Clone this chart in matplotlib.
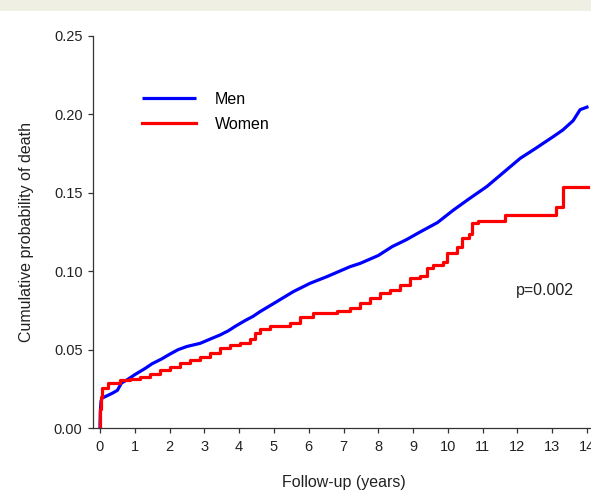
import matplotlib
matplotlib.use("Agg")
import matplotlib.pyplot as plt
from matplotlib.patches import Rectangle

plt.rcParams['font.family'] = ['Liberation Sans', 'DejaVu Sans']

# Men: cumulative probability of death
men_t = [0.0, 0.01, 0.03, 0.06, 0.15, 0.34, 0.5, 0.62, 0.8, 1.0, 1.3, 1.5, 1.77, 2.0, 2.25,
         2.5, 2.88, 3.2, 3.45, 3.69, 3.9, 4.17, 4.4, 4.6, 5.0, 5.56, 6.04, 6.52,
         7.19, 7.48, 8.0, 8.4, 8.8, 9.2, 9.7, 10.16, 10.6, 11.12, 11.6, 12.08,
         12.5, 13.04, 13.3, 13.6, 13.8, 14.04]
men_p = [0.0, 0.010, 0.017, 0.019, 0.020, 0.022, 0.024, 0.0287, 0.031, 0.034, 0.038, 0.041,
         0.044, 0.047, 0.050, 0.052, 0.054, 0.057, 0.0593, 0.062, 0.065, 0.0685,
         0.0712, 0.0742, 0.0795, 0.087, 0.0923, 0.0965, 0.1029, 0.105, 0.110, 0.1157, 0.120,
         0.125, 0.131, 0.139, 0.146, 0.154, 0.163, 0.172, 0.178, 0.186, 0.190, 0.196,
         0.203, 0.205]

# Women: step curve (Kaplan-Meier style)
women_t = [0.0, 0.01, 0.03, 0.06, 0.23, 0.58, 0.85, 1.15, 1.45, 1.73, 2.01, 2.3, 2.59,
           2.88, 3.16, 3.45, 3.74, 4.03, 4.32, 4.46, 4.6, 4.89, 5.47, 5.75, 6.13, 6.81,
           7.19, 7.48, 7.77, 8.06, 8.34, 8.63, 8.92, 9.2, 9.4, 9.58, 9.87, 9.97, 10.26,
           10.4, 10.6, 10.7, 10.88, 11.65, 13.12, 13.31, 14.04]
women_p = [0.0, 0.012, 0.020, 0.0255, 0.029, 0.0306, 0.0315, 0.0323, 0.0345, 0.037,
           0.039, 0.0417, 0.0434, 0.0455, 0.0476, 0.0508, 0.053, 0.0544, 0.0566, 0.0604,
           0.063, 0.065, 0.0668, 0.0706, 0.0735, 0.0746, 0.0763, 0.0795, 0.0827, 0.0863,
           0.088, 0.0912, 0.0955, 0.097, 0.1019, 0.104, 0.106, 0.1114, 0.1157, 0.121,
           0.124, 0.1307, 0.132, 0.1358, 0.1407, 0.1535, 0.1535]

x_ticks = list(range(0, 15))
y_ticks = [0.00, 0.05, 0.10, 0.15, 0.20, 0.25]

W, H = 591, 494
fig = plt.figure(figsize=(W / 100, H / 100), dpi=100)
fig.patches.append(Rectangle((0, 1 - 11 / H), 1, 11 / H, transform=fig.transFigure,
                             facecolor='#f0efe4', edgecolor='none', zorder=0))

ax = fig.add_axes([93 / W, 66 / H, 501 / W, 392 / H])

ax.plot(men_t, men_p, color='#0000ff', lw=2.3, label='Men', solid_capstyle='butt')
ax.plot(women_t, women_p, color='#ff0000', lw=2.3, label='Women', drawstyle='steps-post')

ax.set_xlim(-0.2, 14.2)
ax.set_ylim(0, 0.25)
ax.set_xticks(x_ticks)
ax.set_yticks(y_ticks)
ax.set_yticklabels([f'{v:.2f}' for v in y_ticks])

for s in ['top', 'right']:
    ax.spines[s].set_visible(False)
for s in ['left', 'bottom']:
    ax.spines[s].set_color('#333333')
    ax.spines[s].set_linewidth(0.9)
ax.tick_params(colors='#333333', labelcolor='#222222', length=3.5, width=0.9,
               labelsize=10.5)
ax.tick_params(axis='x', pad=5)
ax.tick_params(axis='y', pad=4)

ax.set_xlabel('Follow-up (years)', fontsize=11.5, color='#222222', labelpad=15)
ax.set_ylabel('Cumulative probability of death', fontsize=11.5, color='#222222', labelpad=14)

ax.legend(loc='upper left', bbox_to_anchor=(141.7 / W, 1 - 91.5 / H),
          bbox_transform=fig.transFigure, frameon=False, fontsize=11.5,
          handlelength=3.4, handletextpad=1.2, borderpad=0, borderaxespad=0,
          labelspacing=0.65)

ax.text(12.79, 0.088, 'p=0.002', fontsize=11.5, color='#222222', ha='center', va='center')

fig.savefig('out.png', dpi=100)
